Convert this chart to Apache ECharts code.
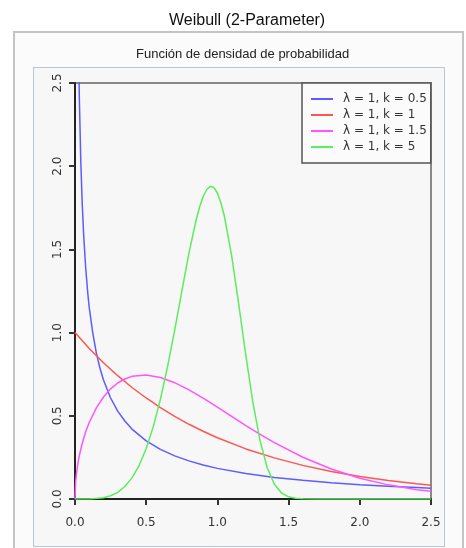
<!DOCTYPE html>
<html>
<head>
<meta charset="utf-8">
<script src="https://cdn.jsdelivr.net/npm/echarts@6/dist/echarts.min.js"></script>
<style>html,body{margin:0;padding:0;background:#fff;}#c{width:466px;height:548px;}</style>
</head>
<body>
<div id="c"></div>
<script>
const titleText = 'Weibull (2-Parameter)';
const subtitleText = 'Función de densidad de probabilidad';
const seriesNames = ['λ = 1, k = 0.5', 'λ = 1, k = 1', 'λ = 1, k = 1.5', 'λ = 1, k = 5'];
const seriesColors = ['#5c5cff', '#ff5555', '#ff55ff', '#5ced5c'];
const xTicks = [0, 0.5, 1.0, 1.5, 2.0, 2.5];
const yTicks = [0, 0.5, 1.0, 1.5, 2.0, 2.5];

const xK05 = [0.01,0.02,0.03,0.04,0.05,0.06,0.075,0.09,0.1,0.125,0.15,0.175,0.2,0.25,0.3,0.35,0.4,0.5,0.6,0.7,0.8,0.9,1.0,1.2,1.4,1.6,1.8,2.0,2.2,2.4,2.5];
const yK05 = [4.52,3.07,2.43,2.05,1.79,1.60,1.39,1.235,1.15,0.997,0.877,0.787,0.715,0.607,0.528,0.469,0.420,0.349,0.298,0.259,0.229,0.204,0.184,0.153,0.129,0.112,0.097,0.086,0.077,0.069,0.065];

const xK1 = [0,0.1,0.2,0.3,0.4,0.5,0.6,0.7,0.8,0.9,1.0,1.2,1.4,1.6,1.8,2.0,2.2,2.4,2.5];
const yK1 = [1,0.905,0.819,0.741,0.670,0.607,0.549,0.497,0.449,0.407,0.368,0.301,0.247,0.202,0.165,0.135,0.111,0.091,0.082];

const xK15 = [0,0.005,0.01,0.02,0.03,0.05,0.075,0.1,0.15,0.2,0.25,0.3,0.35,0.4,0.5,0.6,0.7,0.8,0.9,1.0,1.1,1.2,1.3,1.4,1.6,1.8,2.0,2.2,2.4,2.5];
const yK15 = [0,0.106,0.150,0.212,0.259,0.332,0.404,0.460,0.548,0.613,0.662,0.697,0.721,0.737,0.745,0.730,0.699,0.656,0.606,0.552,0.496,0.441,0.388,0.339,0.251,0.180,0.125,0.085,0.056,0.046];

const xK5 = [0,0.1,0.2,0.25,0.3,0.35,0.4,0.45,0.5,0.55,0.6,0.65,0.7,0.75,0.8,0.85,0.875,0.9,0.925,0.95,0.975,1.0,1.025,1.05,1.1,1.15,1.2,1.25,1.3,1.35,1.4,1.45,1.5,1.55,1.6,1.7,2.0,2.5];
const yK5 = [0,0.0005,0.008,0.0195,0.040,0.075,0.127,0.201,0.303,0.435,0.600,0.795,1.015,1.248,1.476,1.675,1.755,1.818,1.860,1.879,1.872,1.839,1.779,1.696,1.463,1.170,0.861,0.577,0.349,0.188,0.089,0.036,0.013,0.004,0.001,0,0,0];

const zip = (xs, ys) => xs.map((x, i) => [x, ys[i]]);
const allX = [xK05, xK1, xK15, xK5];
const allY = [yK05, yK1, yK15, yK5];

const chart = echarts.init(document.getElementById('c'), null, {renderer: 'canvas'});
const labelFont = 'DejaVu Sans';
chart.setOption({
  animation: false,
  backgroundColor: '#ffffff',
  title: [
    {text: titleText, left: 164, top: 8, textStyle: {fontFamily: 'Liberation Sans', fontSize: 16, fontWeight: 'normal', color: '#111'}},
    {text: subtitleText, left: 131, top: 43, textStyle: {fontFamily: 'Liberation Sans', fontSize: 13, fontWeight: 'normal', color: '#222'}}
  ],
  graphic: [
    {type: 'rect', z: -10, silent: true, shape: {x: 14, y: 32, width: 449, height: 540}, style: {fill: '#fbfbfb', stroke: '#c4c4c4', lineWidth: 2}},
    {type: 'rect', z: -9, silent: true, shape: {x: 33.5, y: 67.5, width: 411, height: 479}, style: {fill: '#f7f7f7', stroke: '#7f93ad', lineWidth: 1, lineDash: [1, 1]}}
  ],
  legend: {
    orient: 'vertical',
    left: 302,
    top: 83,
    padding: [10, 4, 10, 9],
    itemGap: 4,
    itemWidth: 22,
    itemHeight: 12,
    backgroundColor: '#fbfbfb',
    borderColor: '#555',
    borderWidth: 1.5,
    borderRadius: 0,
    icon: 'path://M0,5L22,5L22,7L0,7Z',
    textStyle: {fontFamily: labelFont, fontSize: 12, color: '#333', padding: [0, 0, 0, 5]},
    data: seriesNames
  },
  grid: {left: 75, top: 83, width: 356, height: 416, show: true, borderColor: '#888', borderWidth: 2, backgroundColor: 'transparent'},
  xAxis: {
    type: 'value', min: 0, max: 2.5, interval: 0.5,
    axisLine: {show: true, onZero: false, lineStyle: {color: '#222', width: 2}},
    axisTick: {show: true, length: 6, lineStyle: {color: '#333', width: 2}},
    axisLabel: {margin: 18, fontFamily: labelFont, fontSize: 12, color: '#333', formatter: v => Number(v).toFixed(1)},
    splitLine: {show: false}
  },
  yAxis: {
    type: 'value', min: 0, max: 2.5, interval: 0.5,
    axisLine: {show: true, onZero: false, lineStyle: {color: '#222', width: 2}},
    axisTick: {show: true, length: 6, lineStyle: {color: '#333', width: 2}},
    axisLabel: {margin: 11, rotate: 90, fontFamily: labelFont, fontSize: 12, color: '#333', formatter: v => Number(v).toFixed(1)},
    splitLine: {show: false}
  },
  series: seriesNames.map((name, i) => ({
    name: name,
    type: 'line',
    data: zip(allX[i], allY[i]),
    showSymbol: false,
    symbol: 'none',
    smooth: false,
    clip: true,
    color: seriesColors[i],
    lineStyle: {width: 1.5, color: seriesColors[i]}
  }))
});
</script>
</body>
</html>
